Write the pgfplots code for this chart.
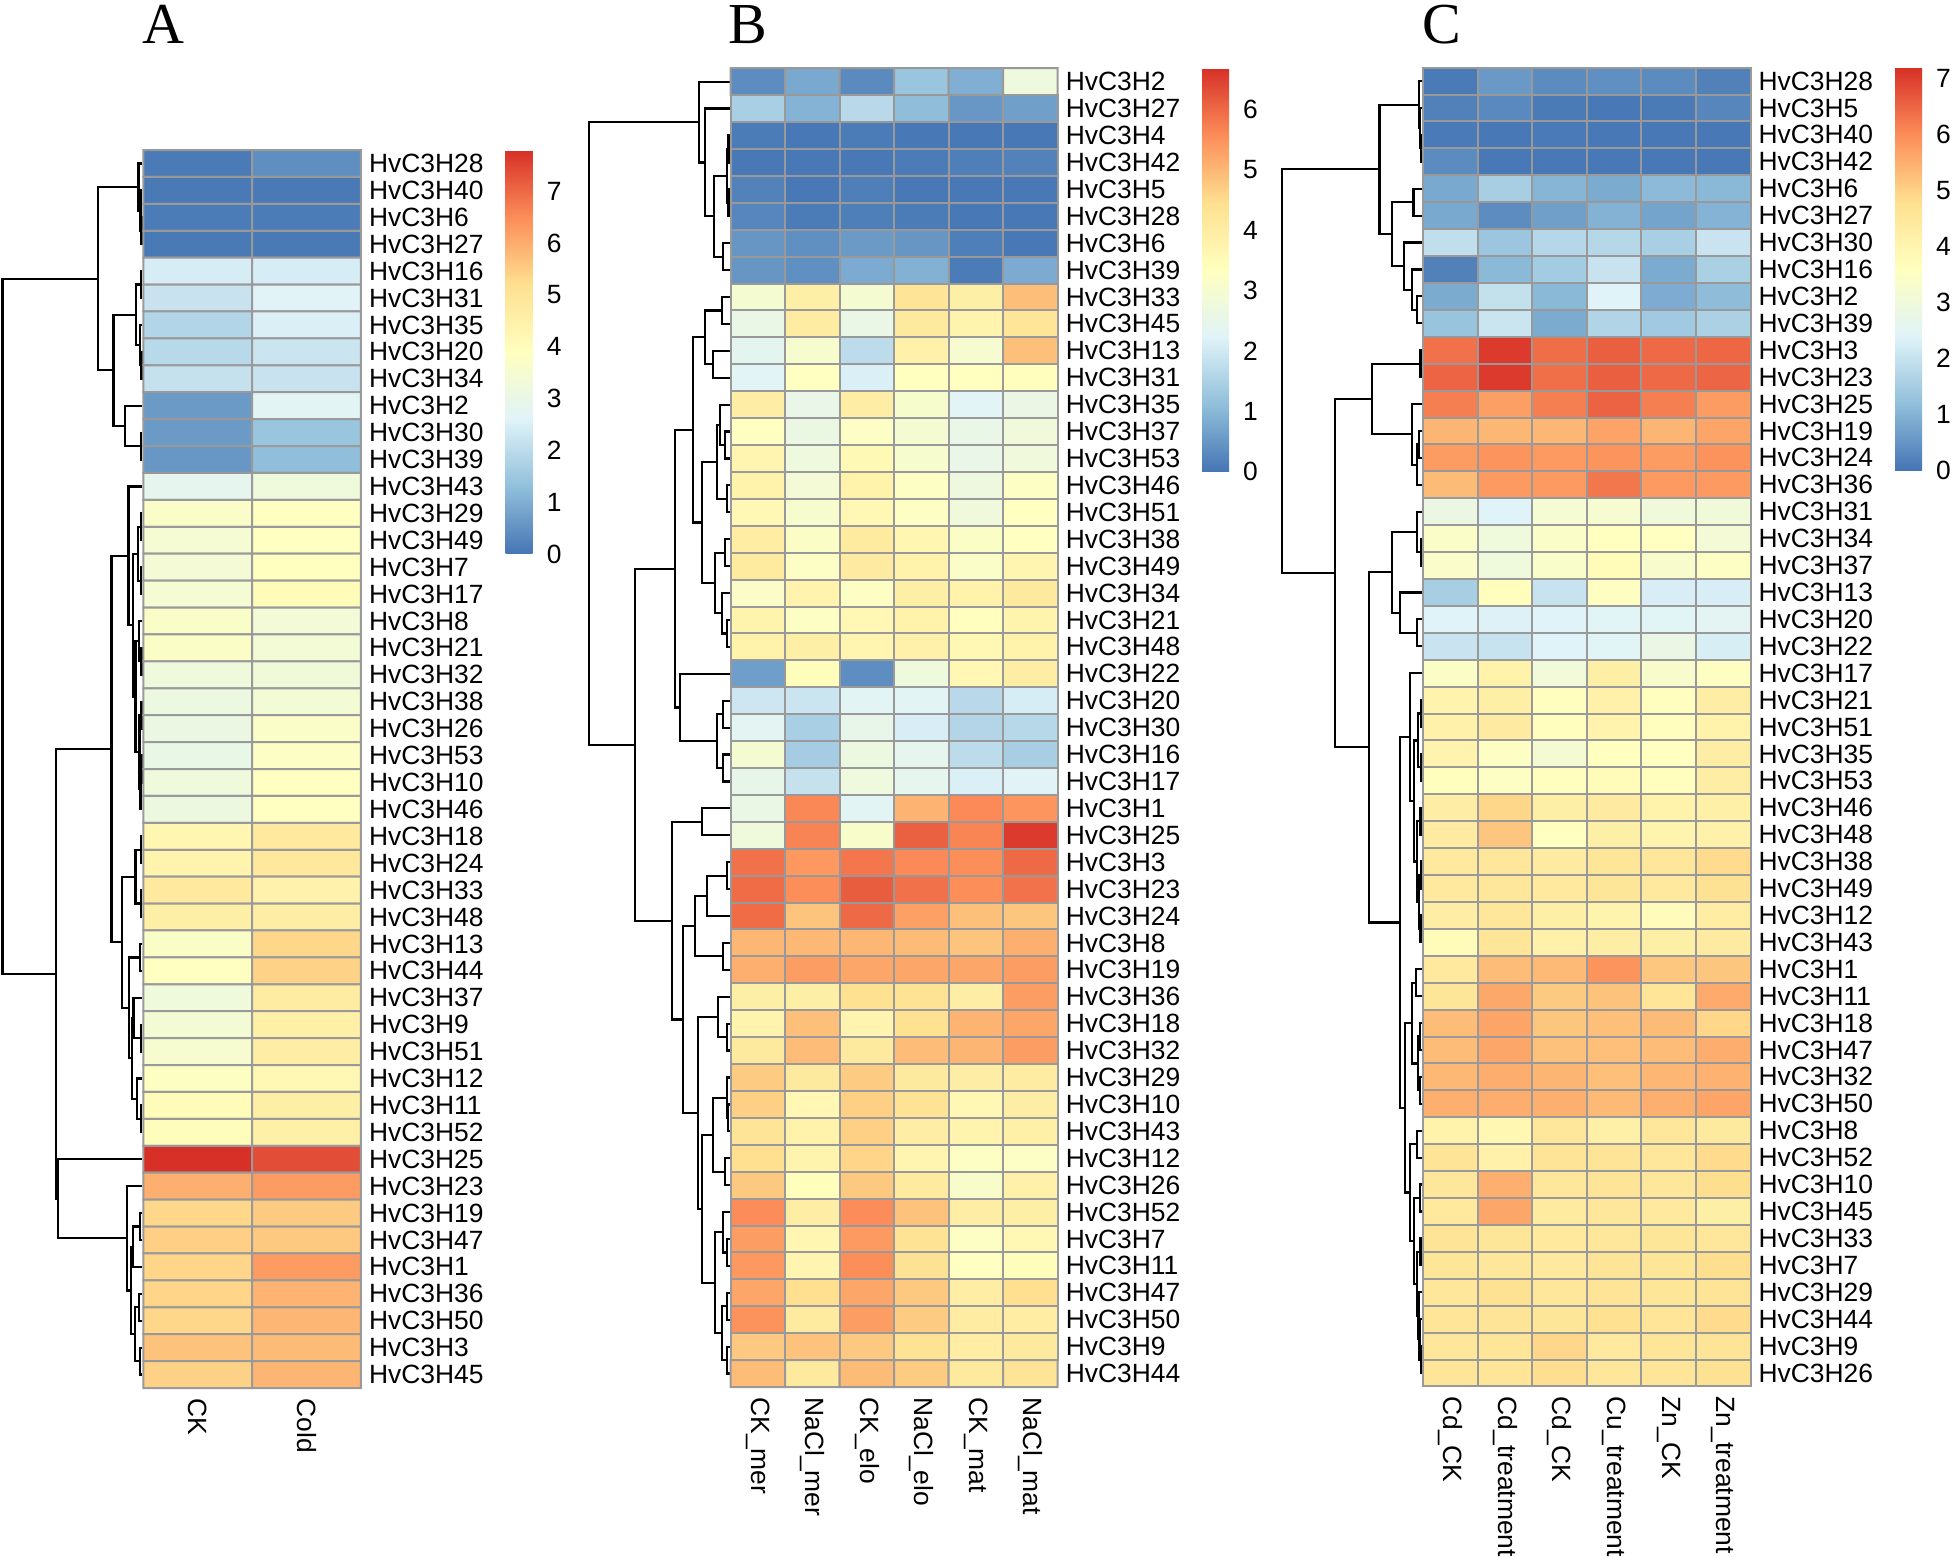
\documentclass[border=0pt]{standalone}
\usepackage{pgfplots}
\pgfplotsset{compat=1.18}
\usepackage{fontspec}
\setmainfont{Liberation Sans}
\newfontfamily\titlefont{Liberation Serif}
\newcommand{\hmlab}{\fontsize{6.6}{7.5}\selectfont}
\pgfplotsset{colormap={rdylbu}{rgb255(0cm)=(69,117,180); rgb255(1cm)=(145,191,219); rgb255(2cm)=(224,243,248); rgb255(3cm)=(255,255,191); rgb255(4cm)=(254,224,144); rgb255(5cm)=(252,141,89); rgb255(6cm)=(215,48,39)}}
\begin{document}
\begin{tikzpicture}
\useasboundingbox (0,0) rectangle (488pt,389pt);
\node[anchor=base west, inner sep=0pt, font=\titlefont\fontsize{14.5}{16}\selectfont] at (35.5pt,378pt) {A};
\node[anchor=base west, inner sep=0pt, font=\titlefont\fontsize{14.5}{16}\selectfont] at (182pt,378pt) {B};
\node[anchor=base west, inner sep=0pt, font=\titlefont\fontsize{14.5}{16}\selectfont] at (355.5pt,378pt) {C};

% ---------------- Panel A dendrogram ----------------
\begin{axis}[at={(0pt,42pt)}, scale only axis, width=35.83pt, height=309.5pt, xmin=0, xmax=143.3, ymin=-0.5, ymax=45.5, y dir=reverse, hide axis, clip=false]
\addplot[black, line width=0.55pt] coordinates {(142,2) (141.5,2) (141.5,3) (142,3)};
\addplot[black, line width=0.55pt] coordinates {(142,1) (140.5,1) (140.5,2.5) (141.5,2.5)};
\addplot[black, line width=0.55pt] coordinates {(142,0) (138.5,0) (138.5,1.75) (140.5,1.75)};
\addplot[black, line width=0.55pt] coordinates {(142,4) (141,4) (141,5) (142,5)};
\addplot[black, line width=0.55pt] coordinates {(142,7) (141.5,7) (141.5,8) (142,8)};
\addplot[black, line width=0.55pt] coordinates {(142,6) (140,6) (140,7.5) (141.5,7.5)};
\addplot[black, line width=0.55pt] coordinates {(141,4.5) (136,4.5) (136,6.75) (140,6.75)};
\addplot[black, line width=0.55pt] coordinates {(142,10) (140.6,10) (140.6,11) (142,11)};
\addplot[black, line width=0.55pt] coordinates {(142,9) (125,9) (125,10.5) (140.6,10.5)};
\addplot[black, line width=0.55pt] coordinates {(136,5.625) (113.4,5.625) (113.4,9.75) (125,9.75)};
\addplot[black, line width=0.55pt] coordinates {(138.5,0.875) (97.9,0.875) (97.9,7.6875) (113.4,7.6875)};
\addplot[black, line width=0.55pt] coordinates {(142,13) (141,13) (141,14) (142,14)};
\addplot[black, line width=0.55pt] coordinates {(142,15) (141,15) (141,16) (142,16)};
\addplot[black, line width=0.55pt] coordinates {(141,13.5) (138,13.5) (138,15.5) (141,15.5)};
\addplot[black, line width=0.55pt] coordinates {(142,18) (141.5,18) (141.5,19) (142,19)};
\addplot[black, line width=0.55pt] coordinates {(142,17) (139,17) (139,18.5) (141.5,18.5)};
\addplot[black, line width=0.55pt] coordinates {(142,20) (141.5,20) (141.5,21) (142,21)};
\addplot[black, line width=0.55pt] coordinates {(142,22) (141.8,22) (141.8,23) (142,23)};
\addplot[black, line width=0.55pt] coordinates {(141.8,22.5) (140.5,22.5) (140.5,24) (142,24)};
\addplot[black, line width=0.55pt] coordinates {(141.5,20.5) (139.5,20.5) (139.5,23.25) (140.5,23.25)};
\addplot[black, line width=0.55pt] coordinates {(139,17.75) (135.5,17.75) (135.5,21.875) (139.5,21.875)};
\addplot[black, line width=0.55pt] coordinates {(138,14.5) (133,14.5) (133,19.8125) (135.5,19.8125)};
\addplot[black, line width=0.55pt] coordinates {(142,12) (128.5,12) (128.5,17.156) (133,17.156)};
\addplot[black, line width=0.55pt] coordinates {(142,25) (141,25) (141,26) (142,26)};
\addplot[black, line width=0.55pt] coordinates {(142,27) (141,27) (141,28) (142,28)};
\addplot[black, line width=0.55pt] coordinates {(141,25.5) (135.5,25.5) (135.5,27.5) (141,27.5)};
\addplot[black, line width=0.55pt] coordinates {(142,29) (140,29) (140,30) (142,30)};
\addplot[black, line width=0.55pt] coordinates {(142,32) (141,32) (141,33) (142,33)};
\addplot[black, line width=0.55pt] coordinates {(142,31) (133.5,31) (133.5,32.5) (141,32.5)};
\addplot[black, line width=0.55pt] coordinates {(142,35) (141,35) (141,36) (142,36)};
\addplot[black, line width=0.55pt] coordinates {(142,34) (136.7,34) (136.7,35.5) (141,35.5)};
\addplot[black, line width=0.55pt] coordinates {(133.5,31.75) (131.7,31.75) (131.7,34.75) (136.7,34.75)};
\addplot[black, line width=0.55pt] coordinates {(140,29.5) (129.3,29.5) (129.3,33.25) (131.7,33.25)};
\addplot[black, line width=0.55pt] coordinates {(135.5,26.5) (121.7,26.5) (121.7,31.375) (129.3,31.375)};
\addplot[black, line width=0.55pt] coordinates {(128.5,14.578) (111.5,14.578) (111.5,28.9375) (121.7,28.9375)};
\addplot[black, line width=0.55pt] coordinates {(142,39) (140,39) (140,40) (142,40)};
\addplot[black, line width=0.55pt] coordinates {(140,39.5) (133,39.5) (133,41) (142,41)};
\addplot[black, line width=0.55pt] coordinates {(142,42) (139,42) (139,43) (142,43)};
\addplot[black, line width=0.55pt] coordinates {(142,44) (140,44) (140,45) (142,45)};
\addplot[black, line width=0.55pt] coordinates {(139,42.5) (135,42.5) (135,44.5) (140,44.5)};
\addplot[black, line width=0.55pt] coordinates {(133,40.25) (131,40.25) (131,43.5) (135,43.5)};
\addplot[black, line width=0.55pt] coordinates {(142,38) (126.7,38) (126.7,41.875) (131,41.875)};
\addplot[black, line width=0.55pt] coordinates {(142,37) (58,37) (58,39.9375) (126.7,39.9375)};
\addplot[black, line width=0.55pt] coordinates {(111.5,21.758) (56,21.758) (56,38.469) (58,38.469)};
\addplot[black, line width=0.55pt] coordinates {(97.9,4.281) (2.4,4.281) (2.4,30.113) (56,30.113)};
\end{axis}

% ---------------- Panel A heatmap ----------------
\begin{axis}[at={(35.83pt,42pt)}, scale only axis, width=54.42pt, height=309.5pt,
  xmin=-0.5, xmax=1.5, ymin=-0.5, ymax=45.5, y dir=reverse, clip=false,
  axis line style={draw=none}, major tick length=0pt,
  xtick=\empty, ytick={0,...,45}, yticklabel pos=right,
  yticklabel style={font=\hmlab, anchor=west, xshift=-1.5pt},
  yticklabels={HvC3H28,HvC3H40,HvC3H6,HvC3H27,HvC3H16,HvC3H31,HvC3H35,HvC3H20,HvC3H34,HvC3H2,HvC3H30,HvC3H39,HvC3H43,HvC3H29,HvC3H49,HvC3H7,HvC3H17,HvC3H8,HvC3H21,HvC3H32,HvC3H38,HvC3H26,HvC3H53,HvC3H10,HvC3H46,HvC3H18,HvC3H24,HvC3H33,HvC3H48,HvC3H13,HvC3H44,HvC3H37,HvC3H9,HvC3H51,HvC3H12,HvC3H11,HvC3H52,HvC3H25,HvC3H23,HvC3H19,HvC3H47,HvC3H1,HvC3H36,HvC3H50,HvC3H3,HvC3H45},
  colormap name=rdylbu, point meta min=0, point meta max=7.8,
  colorbar, colorbar style={at={(parent axis.north east)}, anchor=north west, xshift=27.64pt,
    width=6.75pt, height=101pt, scale only axis, y dir=normal,
    ytick={0,1,2,3,4,5,6,7}, yticklabel pos=right, axis line style={draw=none},
    major tick length=0pt, yticklabel style={font=\hmlab, anchor=west},
    /pgf/number format/assume math mode=true}]
\addplot[matrix plot*, mesh/cols=2, point meta=explicit, draw=black!40, line width=0.5pt] table[meta=v, row sep=\\] {
x y v\\
0 0 0.1\\ 1 0 0.45\\
0 1 0.08\\ 1 1 0.08\\
0 2 0.12\\ 1 2 0.12\\
0 3 0.08\\ 1 3 0.08\\
0 4 2.45\\ 1 4 2.45\\
0 5 2.2\\ 1 5 2.65\\
0 6 1.85\\ 1 6 2.5\\
0 7 1.95\\ 1 7 2.25\\
0 8 2.15\\ 1 8 2.2\\
0 9 0.65\\ 1 9 2.7\\
0 10 0.65\\ 1 10 1.45\\
0 11 0.6\\ 1 11 1.3\\
0 12 2.85\\ 1 12 3.25\\
0 13 3.69\\ 1 13 3.85\\
0 14 3.47\\ 1 14 3.88\\
0 15 3.4\\ 1 15 3.9\\
0 16 3.47\\ 1 16 4.04\\
0 17 3.69\\ 1 17 3.35\\
0 18 3.73\\ 1 18 3.37\\
0 19 3.24\\ 1 19 3.33\\
0 20 3.15\\ 1 20 3.42\\
0 21 3.09\\ 1 21 3.71\\
0 22 3.0\\ 1 22 3.76\\
0 23 3.24\\ 1 23 3.87\\
0 24 3.15\\ 1 24 3.85\\
0 25 4.29\\ 1 25 4.81\\
0 26 4.37\\ 1 26 4.87\\
0 27 4.81\\ 1 27 4.43\\
0 28 4.59\\ 1 28 4.62\\
0 29 3.74\\ 1 29 5.35\\
0 30 3.88\\ 1 30 5.4\\
0 31 3.24\\ 1 31 4.7\\
0 32 3.42\\ 1 32 4.54\\
0 33 3.54\\ 1 33 4.62\\
0 34 3.83\\ 1 34 4.18\\
0 35 4.09\\ 1 35 4.56\\
0 36 4.0\\ 1 36 4.54\\
0 37 7.8\\ 1 37 7.4\\
0 38 5.97\\ 1 38 6.27\\
0 39 5.34\\ 1 39 5.54\\
0 40 5.47\\ 1 40 5.56\\
0 41 5.37\\ 1 41 6.28\\
0 42 5.37\\ 1 42 5.9\\
0 43 5.35\\ 1 43 5.86\\
0 44 5.67\\ 1 44 5.78\\
0 45 5.43\\ 1 45 5.87\\
};
\node[rotate=-90, anchor=west, font=\hmlab, inner sep=2.4pt] at (axis cs:0,45.5) {CK};
\node[rotate=-90, anchor=west, font=\hmlab, inner sep=2.4pt] at (axis cs:1,45.5) {Cold};
\end{axis}

% ---------------- Panel B dendrogram ----------------
\begin{axis}[at={(145pt,42.25pt)}, scale only axis, width=37.675pt, height=329.7pt, xmin=580, xmax=730.7, ymin=-0.5, ymax=48.5, y dir=reverse, hide axis, clip=false]
\addplot[black, line width=0.55pt] coordinates {(729.5,2) (728.5,2) (728.5,3) (729.5,3)};
\addplot[black, line width=0.55pt] coordinates {(729.5,4) (728.5,4) (728.5,5) (729.5,5)};
\addplot[black, line width=0.55pt] coordinates {(728.5,2.5) (727,2.5) (727,4.5) (728.5,4.5)};
\addplot[black, line width=0.55pt] coordinates {(729.5,6) (723.3,6) (723.3,7) (729.5,7)};
\addplot[black, line width=0.55pt] coordinates {(727,3.5) (714.3,3.5) (714.3,6.5) (723.3,6.5)};
\addplot[black, line width=0.55pt] coordinates {(729.5,1) (705,1) (705,5) (714.3,5)};
\addplot[black, line width=0.55pt] coordinates {(729.5,0) (699.3,0) (699.3,3) (705,3)};
\addplot[black, line width=0.55pt] coordinates {(729.5,8) (721.7,8) (721.7,9) (729.5,9)};
\addplot[black, line width=0.55pt] coordinates {(729.5,10) (713.3,10) (713.3,11) (729.5,11)};
\addplot[black, line width=0.55pt] coordinates {(721.7,8.5) (705,8.5) (705,10.5) (713.3,10.5)};
\addplot[black, line width=0.55pt] coordinates {(729.5,13) (725,13) (725,14) (729.5,14)};
\addplot[black, line width=0.55pt] coordinates {(729.5,12) (720,12) (720,13.5) (725,13.5)};
\addplot[black, line width=0.55pt] coordinates {(729.5,15) (726.7,15) (726.7,16) (729.5,16)};
\addplot[black, line width=0.55pt] coordinates {(720,12.75) (716.7,12.75) (716.7,15.5) (726.7,15.5)};
\addplot[black, line width=0.55pt] coordinates {(729.5,17) (725,17) (725,18) (729.5,18)};
\addplot[black, line width=0.55pt] coordinates {(729.5,20) (726.7,20) (726.7,21) (729.5,21)};
\addplot[black, line width=0.55pt] coordinates {(729.5,19) (721.7,19) (721.7,20.5) (726.7,20.5)};
\addplot[black, line width=0.55pt] coordinates {(725,17.5) (715,17.5) (715,19.75) (721.7,19.75)};
\addplot[black, line width=0.55pt] coordinates {(716.7,14.125) (701.7,14.125) (701.7,18.625) (715,18.625)};
\addplot[black, line width=0.55pt] coordinates {(705,9.5) (692.7,9.5) (692.7,16.375) (701.7,16.375)};
\addplot[black, line width=0.55pt] coordinates {(729.5,23) (723.3,23) (723.3,24) (729.5,24)};
\addplot[black, line width=0.55pt] coordinates {(729.5,25) (723.3,25) (723.3,26) (729.5,26)};
\addplot[black, line width=0.55pt] coordinates {(723.3,23.5) (716.7,23.5) (716.7,25.5) (723.3,25.5)};
\addplot[black, line width=0.55pt] coordinates {(729.5,22) (680,22) (680,24.5) (716.7,24.5)};
\addplot[black, line width=0.55pt] coordinates {(692.7,12.9375) (675,12.9375) (675,23.25) (680,23.25)};
\addplot[black, line width=0.55pt] coordinates {(729.5,27) (701.7,27) (701.7,28) (729.5,28)};
\addplot[black, line width=0.55pt] coordinates {(729.5,29) (726.7,29) (726.7,30) (729.5,30)};
\addplot[black, line width=0.55pt] coordinates {(726.7,29.5) (706.7,29.5) (706.7,31) (729.5,31)};
\addplot[black, line width=0.55pt] coordinates {(729.5,32) (723.3,32) (723.3,33) (729.5,33)};
\addplot[black, line width=0.55pt] coordinates {(706.7,30.25) (695,30.25) (695,32.5) (723.3,32.5)};
\addplot[black, line width=0.55pt] coordinates {(729.5,35) (726.7,35) (726.7,36) (729.5,36)};
\addplot[black, line width=0.55pt] coordinates {(729.5,34) (718.3,34) (718.3,35.5) (726.7,35.5)};
\addplot[black, line width=0.55pt] coordinates {(729.5,38) (728,38) (728,39) (729.5,39)};
\addplot[black, line width=0.55pt] coordinates {(729.5,37) (726.7,37) (726.7,38.5) (728,38.5)};
\addplot[black, line width=0.55pt] coordinates {(729.5,40) (725,40) (725,41) (729.5,41)};
\addplot[black, line width=0.55pt] coordinates {(726.7,37.75) (713.3,37.75) (713.3,40.5) (725,40.5)};
\addplot[black, line width=0.55pt] coordinates {(729.5,43) (726.7,43) (726.7,44) (729.5,44)};
\addplot[black, line width=0.55pt] coordinates {(729.5,42) (723,42) (723,43.5) (726.7,43.5)};
\addplot[black, line width=0.55pt] coordinates {(729.5,45) (726.7,45) (726.7,46) (729.5,46)};
\addplot[black, line width=0.55pt] coordinates {(729.5,47) (726.7,47) (726.7,48) (729.5,48)};
\addplot[black, line width=0.55pt] coordinates {(726.7,45.5) (721.7,45.5) (721.7,47.5) (726.7,47.5)};
\addplot[black, line width=0.55pt] coordinates {(723,42.75) (715,42.75) (715,46.5) (721.7,46.5)};
\addplot[black, line width=0.55pt] coordinates {(713.3,39.125) (701.7,39.125) (701.7,44.625) (715,44.625)};
\addplot[black, line width=0.55pt] coordinates {(718.3,34.75) (698.3,34.75) (698.3,41.875) (701.7,41.875)};
\addplot[black, line width=0.55pt] coordinates {(695,31.375) (683.3,31.375) (683.3,38.3125) (698.3,38.3125)};
\addplot[black, line width=0.55pt] coordinates {(701.7,27.5) (671.7,27.5) (671.7,34.844) (683.3,34.844)};
\addplot[black, line width=0.55pt] coordinates {(675,18.094) (635,18.094) (635,31.172) (671.7,31.172)};
\addplot[black, line width=0.55pt] coordinates {(699.3,1.5) (589.3,1.5) (589.3,24.633) (635,24.633)};
\end{axis}

% ---------------- Panel B heatmap ----------------
\begin{axis}[at={(182.68pt,42.25pt)}, scale only axis, width=81.75pt, height=329.7pt,
  xmin=-0.5, xmax=5.5, ymin=-0.5, ymax=48.5, y dir=reverse, clip=false,
  axis line style={draw=none}, major tick length=0pt,
  xtick=\empty, ytick={0,...,48}, yticklabel pos=right,
  yticklabel style={font=\hmlab, anchor=west, xshift=-1.5pt},
  yticklabels={HvC3H2,HvC3H27,HvC3H4,HvC3H42,HvC3H5,HvC3H28,HvC3H6,HvC3H39,HvC3H33,HvC3H45,HvC3H13,HvC3H31,HvC3H35,HvC3H37,HvC3H53,HvC3H46,HvC3H51,HvC3H38,HvC3H49,HvC3H34,HvC3H21,HvC3H48,HvC3H22,HvC3H20,HvC3H30,HvC3H16,HvC3H17,HvC3H1,HvC3H25,HvC3H3,HvC3H23,HvC3H24,HvC3H8,HvC3H19,HvC3H36,HvC3H18,HvC3H32,HvC3H29,HvC3H10,HvC3H43,HvC3H12,HvC3H26,HvC3H52,HvC3H7,HvC3H11,HvC3H47,HvC3H50,HvC3H9,HvC3H44},
  colormap name=rdylbu, point meta min=0, point meta max=6.68,
  colorbar, colorbar style={at={(parent axis.north east)}, anchor=north west, xshift=27.56pt,
    width=6.75pt, height=100.85pt, scale only axis, y dir=normal,
    ytick={0,1,2,3,4,5,6}, yticklabel pos=right, axis line style={draw=none},
    major tick length=0pt, yticklabel style={font=\hmlab, anchor=west},
    /pgf/number format/assume math mode=true}]
\addplot[matrix plot*, mesh/cols=6, point meta=explicit, draw=black!40, line width=0.5pt] table[meta=v, row sep=\\] {
x y v\\
0 0 0.35\\ 1 0 0.78\\ 2 0 0.32\\ 3 0 1.24\\ 4 0 0.88\\ 5 0 2.75\\
0 1 1.45\\ 1 1 0.94\\ 2 1 1.68\\ 3 1 1.08\\ 4 1 0.51\\ 5 1 0.63\\
0 2 0.1\\ 1 2 0.05\\ 2 2 0.1\\ 3 2 0.05\\ 4 2 0.05\\ 5 2 0.05\\
0 3 0.05\\ 1 3 0.05\\ 2 3 0.05\\ 3 3 0.1\\ 4 3 0.15\\ 5 3 0.2\\
0 4 0.2\\ 1 4 0.05\\ 2 4 0.15\\ 3 4 0.05\\ 4 4 0.05\\ 5 4 0.05\\
0 5 0.25\\ 1 5 0.1\\ 2 5 0.15\\ 3 5 0.1\\ 4 5 0.05\\ 5 5 0.05\\
0 6 0.5\\ 1 6 0.4\\ 2 6 0.55\\ 3 6 0.5\\ 4 6 0.15\\ 5 6 0.05\\
0 7 0.5\\ 1 7 0.4\\ 2 7 0.8\\ 3 7 0.9\\ 4 7 0.1\\ 5 7 0.8\\
0 8 2.99\\ 1 8 3.93\\ 2 8 2.99\\ 3 8 4.3\\ 4 8 3.91\\ 5 8 4.91\\
0 9 2.58\\ 1 9 4.03\\ 2 9 2.58\\ 3 9 4.1\\ 4 9 3.74\\ 5 9 4.26\\
0 10 2.38\\ 1 10 3.05\\ 2 10 1.73\\ 3 10 3.84\\ 4 10 3.03\\ 5 10 4.88\\
0 11 2.29\\ 1 11 3.32\\ 2 11 2.16\\ 3 11 3.34\\ 4 11 3.34\\ 5 11 3.39\\
0 12 3.96\\ 1 12 2.54\\ 2 12 3.96\\ 3 12 3.07\\ 4 12 2.29\\ 5 12 2.62\\
0 13 3.3\\ 1 13 2.64\\ 2 13 3.23\\ 3 13 2.95\\ 4 13 2.54\\ 5 13 2.81\\
0 14 3.7\\ 1 14 2.75\\ 2 14 3.55\\ 3 14 3.05\\ 4 14 2.54\\ 5 14 2.79\\
0 15 3.81\\ 1 15 2.91\\ 2 15 3.81\\ 3 15 3.25\\ 4 15 2.72\\ 5 15 3.27\\
0 16 3.6\\ 1 16 3.05\\ 2 16 3.62\\ 3 16 3.25\\ 4 16 2.79\\ 5 16 3.32\\
0 17 4.0\\ 1 17 3.19\\ 2 17 4.07\\ 3 17 3.65\\ 4 17 3.19\\ 5 17 3.32\\
0 18 4.07\\ 1 18 3.23\\ 2 18 4.05\\ 3 18 3.81\\ 4 18 3.18\\ 5 18 3.7\\
0 19 3.16\\ 1 19 3.77\\ 2 19 3.25\\ 3 19 3.93\\ 4 19 3.81\\ 5 19 4.1\\
0 20 3.74\\ 1 20 3.27\\ 2 20 3.62\\ 3 20 3.81\\ 4 20 3.36\\ 5 20 3.74\\
0 21 3.81\\ 1 21 3.93\\ 2 21 3.7\\ 3 21 3.84\\ 4 21 3.58\\ 5 21 3.81\\
0 22 0.62\\ 1 22 3.43\\ 2 22 0.37\\ 3 22 2.77\\ 4 22 3.62\\ 5 22 3.98\\
0 23 1.96\\ 1 23 1.93\\ 2 23 2.3\\ 3 23 2.3\\ 4 23 1.68\\ 5 23 2.1\\
0 24 2.35\\ 1 24 1.45\\ 2 24 2.5\\ 3 24 2.11\\ 4 24 1.59\\ 5 24 1.65\\
0 25 3.0\\ 1 25 1.39\\ 2 25 2.7\\ 3 25 2.45\\ 4 25 1.72\\ 5 25 1.44\\
0 26 2.5\\ 1 26 1.85\\ 2 26 2.75\\ 3 26 2.45\\ 4 26 2.15\\ 5 26 2.25\\
0 27 2.6\\ 1 27 5.63\\ 2 27 2.3\\ 3 27 5.06\\ 4 27 5.6\\ 5 27 5.46\\
0 28 2.77\\ 1 28 5.69\\ 2 28 3.1\\ 3 28 6.1\\ 4 28 5.66\\ 5 28 6.56\\
0 29 5.9\\ 1 29 5.42\\ 2 29 5.85\\ 3 29 5.6\\ 4 29 5.56\\ 5 29 5.99\\
0 30 5.96\\ 1 30 5.56\\ 2 30 6.14\\ 3 30 5.9\\ 4 30 5.56\\ 5 30 5.89\\
0 31 5.96\\ 1 31 4.83\\ 2 31 5.99\\ 3 31 5.31\\ 4 31 4.88\\ 5 31 4.8\\
0 32 5.0\\ 1 32 4.99\\ 2 32 5.0\\ 3 32 4.95\\ 4 32 4.83\\ 5 32 5.11\\
0 33 5.11\\ 1 33 5.35\\ 2 33 5.24\\ 3 33 5.24\\ 4 33 5.24\\ 5 33 5.36\\
0 34 3.93\\ 1 34 3.93\\ 2 34 4.4\\ 3 34 4.35\\ 4 34 3.98\\ 5 34 5.36\\
0 35 3.74\\ 1 35 4.9\\ 2 35 3.72\\ 3 35 4.4\\ 4 35 5.04\\ 5 35 5.24\\
0 36 4.1\\ 1 36 4.94\\ 2 36 4.1\\ 3 36 4.94\\ 4 36 5.03\\ 5 36 5.35\\
0 37 4.74\\ 1 37 4.1\\ 2 37 4.74\\ 3 37 4.1\\ 4 37 3.98\\ 5 37 4.03\\
0 38 4.67\\ 1 38 3.62\\ 2 38 4.67\\ 3 38 4.35\\ 4 38 3.6\\ 5 38 3.98\\
0 39 4.3\\ 1 39 3.81\\ 2 39 4.67\\ 3 39 3.96\\ 4 39 3.74\\ 5 39 3.88\\
0 40 4.45\\ 1 40 3.74\\ 2 40 4.6\\ 3 40 3.7\\ 4 40 3.25\\ 5 40 3.23\\
0 41 4.77\\ 1 41 3.39\\ 2 41 4.77\\ 3 41 4.07\\ 4 41 3.1\\ 5 41 3.86\\
0 42 5.58\\ 1 42 3.96\\ 2 42 5.58\\ 3 42 4.84\\ 4 42 3.96\\ 5 42 3.93\\
0 43 5.34\\ 1 43 3.65\\ 2 43 5.39\\ 3 43 4.35\\ 4 43 3.27\\ 5 43 3.62\\
0 44 5.42\\ 1 44 3.7\\ 2 44 5.56\\ 3 44 4.37\\ 4 44 3.3\\ 5 44 3.43\\
0 45 5.23\\ 1 45 4.45\\ 2 45 5.24\\ 3 45 4.76\\ 4 45 3.98\\ 5 45 4.45\\
0 46 5.49\\ 1 46 4.07\\ 2 46 5.35\\ 3 46 4.74\\ 4 46 4.03\\ 5 46 4.0\\
0 47 4.77\\ 1 47 4.84\\ 2 47 4.76\\ 3 47 4.35\\ 4 47 4.0\\ 5 47 4.1\\
0 48 4.94\\ 1 48 4.1\\ 2 48 4.95\\ 3 48 4.74\\ 4 48 4.1\\ 5 48 4.3\\
};
\node[rotate=-90, anchor=west, font=\hmlab, inner sep=2.4pt] at (axis cs:0,48.5) {CK\_mer};
\node[rotate=-90, anchor=west, font=\hmlab, inner sep=2.4pt] at (axis cs:1,48.5) {NaCl\_mer};
\node[rotate=-90, anchor=west, font=\hmlab, inner sep=2.4pt] at (axis cs:2,48.5) {CK\_elo};
\node[rotate=-90, anchor=west, font=\hmlab, inner sep=2.4pt] at (axis cs:3,48.5) {NaCl\_elo};
\node[rotate=-90, anchor=west, font=\hmlab, inner sep=2.4pt] at (axis cs:4,48.5) {CK\_mat};
\node[rotate=-90, anchor=west, font=\hmlab, inner sep=2.4pt] at (axis cs:5,48.5) {NaCl\_mat};
\end{axis}

% ---------------- Panel C dendrogram ----------------
\begin{axis}[at={(317.5pt,42.4pt)}, scale only axis, width=38.275pt, height=329.7pt, xmin=1270, xmax=1423.1, ymin=-0.5, ymax=48.5, y dir=reverse, hide axis, clip=false]
\addplot[black, line width=0.55pt] coordinates {(1422,2) (1421,2) (1421,3) (1422,3)};
\addplot[black, line width=0.55pt] coordinates {(1422,1) (1420,1) (1420,2.5) (1421,2.5)};
\addplot[black, line width=0.55pt] coordinates {(1422,0) (1418.6,0) (1418.6,1.75) (1420,1.75)};
\addplot[black, line width=0.55pt] coordinates {(1422,4) (1413.5,4) (1413.5,5) (1422,5)};
\addplot[black, line width=0.55pt] coordinates {(1422,8) (1416.9,8) (1416.9,9) (1422,9)};
\addplot[black, line width=0.55pt] coordinates {(1422,7) (1411.7,7) (1411.7,8.5) (1416.9,8.5)};
\addplot[black, line width=0.55pt] coordinates {(1422,6) (1404,6) (1404,7.75) (1411.7,7.75)};
\addplot[black, line width=0.55pt] coordinates {(1413.5,4.5) (1392,4.5) (1392,6.875) (1404,6.875)};
\addplot[black, line width=0.55pt] coordinates {(1418.6,0.875) (1379.5,0.875) (1379.5,5.6875) (1392,5.6875)};
\addplot[black, line width=0.55pt] coordinates {(1422,10) (1420.5,10) (1420.5,11) (1422,11)};
\addplot[black, line width=0.55pt] coordinates {(1422,13) (1418.6,13) (1418.6,14) (1422,14)};
\addplot[black, line width=0.55pt] coordinates {(1418.6,13.5) (1417,13.5) (1417,15) (1422,15)};
\addplot[black, line width=0.55pt] coordinates {(1422,12) (1411.7,12) (1411.7,14.25) (1417,14.25)};
\addplot[black, line width=0.55pt] coordinates {(1420.5,10.5) (1372,10.5) (1372,13.125) (1411.7,13.125)};
\addplot[black, line width=0.55pt] coordinates {(1422,17) (1421.5,17) (1421.5,18) (1422,18)};
\addplot[black, line width=0.55pt] coordinates {(1422,16) (1417,16) (1417,17.5) (1421.5,17.5)};
\addplot[black, line width=0.55pt] coordinates {(1422,20) (1417,20) (1417,21) (1422,21)};
\addplot[black, line width=0.55pt] coordinates {(1422,19) (1400,19) (1400,20.5) (1417,20.5)};
\addplot[black, line width=0.55pt] coordinates {(1417,16.75) (1392,16.75) (1392,19.75) (1400,19.75)};
\addplot[black, line width=0.55pt] coordinates {(1422,23) (1421,23) (1421,24) (1422,24)};
\addplot[black, line width=0.55pt] coordinates {(1422,25) (1421,25) (1421,26) (1422,26)};
\addplot[black, line width=0.55pt] coordinates {(1421,23.5) (1418,23.5) (1418,25.5) (1421,25.5)};
\addplot[black, line width=0.55pt] coordinates {(1422,27) (1420.5,27) (1420.5,28) (1422,28)};
\addplot[black, line width=0.55pt] coordinates {(1422,29) (1421.5,29) (1421.5,30) (1422,30)};
\addplot[black, line width=0.55pt] coordinates {(1422,31) (1420.5,31) (1420.5,32) (1422,32)};
\addplot[black, line width=0.55pt] coordinates {(1421.5,29.5) (1419,29.5) (1419,31.5) (1420.5,31.5)};
\addplot[black, line width=0.55pt] coordinates {(1420.5,27.5) (1417,27.5) (1417,30.5) (1419,30.5)};
\addplot[black, line width=0.55pt] coordinates {(1418,24.5) (1414,24.5) (1414,29) (1417,29)};
\addplot[black, line width=0.55pt] coordinates {(1422,22) (1410,22) (1410,26.75) (1414,26.75)};
\addplot[black, line width=0.55pt] coordinates {(1422,33) (1416,33) (1416,34) (1422,34)};
\addplot[black, line width=0.55pt] coordinates {(1422,35) (1420,35) (1420,36) (1422,36)};
\addplot[black, line width=0.55pt] coordinates {(1422,37) (1420,37) (1420,38) (1422,38)};
\addplot[black, line width=0.55pt] coordinates {(1420,35.5) (1418,35.5) (1418,37.5) (1420,37.5)};
\addplot[black, line width=0.55pt] coordinates {(1416,33.5) (1412,33.5) (1412,36.5) (1418,36.5)};
\addplot[black, line width=0.55pt] coordinates {(1422,39) (1416.9,39) (1416.9,40) (1422,40)};
\addplot[black, line width=0.55pt] coordinates {(1422,41) (1420,41) (1420,42) (1422,42)};
\addplot[black, line width=0.55pt] coordinates {(1422,43) (1420.5,43) (1420.5,44) (1422,44)};
\addplot[black, line width=0.55pt] coordinates {(1422,47) (1421,47) (1421,48) (1422,48)};
\addplot[black, line width=0.55pt] coordinates {(1422,46) (1419.5,46) (1419.5,47.5) (1421,47.5)};
\addplot[black, line width=0.55pt] coordinates {(1422,45) (1418.5,45) (1418.5,46.75) (1419.5,46.75)};
\addplot[black, line width=0.55pt] coordinates {(1420.5,43.5) (1417,43.5) (1417,45.875) (1418.5,45.875)};
\addplot[black, line width=0.55pt] coordinates {(1420,41.5) (1414,41.5) (1414,44.6875) (1417,44.6875)};
\addplot[black, line width=0.55pt] coordinates {(1416.9,39.5) (1410,39.5) (1410,43.094) (1414,43.094)};
\addplot[black, line width=0.55pt] coordinates {(1412,35) (1405,35) (1405,41.297) (1410,41.297)};
\addplot[black, line width=0.55pt] coordinates {(1410,24.375) (1400,24.375) (1400,38.148) (1405,38.148)};
\addplot[black, line width=0.55pt] coordinates {(1392,18.25) (1369,18.25) (1369,31.262) (1400,31.262)};
\addplot[black, line width=0.55pt] coordinates {(1372,11.8125) (1334.6,11.8125) (1334.6,24.756) (1369,24.756)};
\addplot[black, line width=0.55pt] coordinates {(1379.5,3.281) (1282,3.281) (1282,18.284) (1334.6,18.284)};
\end{axis}

% ---------------- Panel C heatmap ----------------
\begin{axis}[at={(355.78pt,42.4pt)}, scale only axis, width=81.85pt, height=329.7pt,
  xmin=-0.5, xmax=5.5, ymin=-0.5, ymax=48.5, y dir=reverse, clip=false,
  axis line style={draw=none}, major tick length=0pt,
  xtick=\empty, ytick={0,...,48}, yticklabel pos=right,
  yticklabel style={font=\hmlab, anchor=west, xshift=-1.5pt},
  yticklabels={HvC3H28,HvC3H5,HvC3H40,HvC3H42,HvC3H6,HvC3H27,HvC3H30,HvC3H16,HvC3H2,HvC3H39,HvC3H3,HvC3H23,HvC3H25,HvC3H19,HvC3H24,HvC3H36,HvC3H31,HvC3H34,HvC3H37,HvC3H13,HvC3H20,HvC3H22,HvC3H17,HvC3H21,HvC3H51,HvC3H35,HvC3H53,HvC3H46,HvC3H48,HvC3H38,HvC3H49,HvC3H12,HvC3H43,HvC3H1,HvC3H11,HvC3H18,HvC3H47,HvC3H32,HvC3H50,HvC3H8,HvC3H52,HvC3H10,HvC3H45,HvC3H33,HvC3H7,HvC3H29,HvC3H44,HvC3H9,HvC3H26},
  colormap name=rdylbu, point meta min=0, point meta max=7.19,
  colorbar, colorbar style={at={(parent axis.north east)}, anchor=north west, xshift=27.6pt,
    width=6.75pt, height=100.7pt, scale only axis, y dir=normal,
    ytick={0,1,2,3,4,5,6,7}, yticklabel pos=right, axis line style={draw=none},
    major tick length=0pt, yticklabel style={font=\hmlab, anchor=west},
    /pgf/number format/assume math mode=true}]
\addplot[matrix plot*, mesh/cols=6, point meta=explicit, draw=black!40, line width=0.5pt] table[meta=v, row sep=\\] {
x y v\\
0 0 0.1\\ 1 0 0.58\\ 2 0 0.35\\ 3 0 0.43\\ 4 0 0.36\\ 5 0 0.2\\
0 1 0.2\\ 1 1 0.33\\ 2 1 0.1\\ 3 1 0.05\\ 4 1 0.1\\ 5 1 0.28\\
0 2 0.08\\ 1 2 0.05\\ 2 2 0.08\\ 3 2 0.05\\ 4 2 0.05\\ 5 2 0.05\\
0 3 0.35\\ 1 3 0.05\\ 2 3 0.05\\ 3 3 0.05\\ 4 3 0.05\\ 5 3 0.05\\
0 4 0.84\\ 1 4 1.55\\ 2 4 1.04\\ 3 4 0.87\\ 4 4 1.12\\ 5 4 1.09\\
0 5 0.84\\ 1 5 0.38\\ 2 5 0.68\\ 3 5 0.99\\ 4 5 0.74\\ 5 5 1.01\\
0 6 1.91\\ 1 6 1.37\\ 2 6 1.76\\ 3 6 1.75\\ 4 6 1.56\\ 5 6 2.05\\
0 7 0.2\\ 1 7 1.11\\ 2 7 1.47\\ 3 7 2.04\\ 4 7 0.87\\ 5 7 1.58\\
0 8 0.87\\ 1 8 1.96\\ 2 8 1.09\\ 3 8 2.4\\ 4 8 0.88\\ 5 8 1.15\\
0 9 1.31\\ 1 9 2.08\\ 2 9 0.87\\ 3 9 1.69\\ 4 9 1.44\\ 5 9 1.61\\
0 10 6.35\\ 1 10 7.06\\ 2 10 6.4\\ 3 10 6.59\\ 4 10 6.44\\ 5 10 6.49\\
0 11 6.52\\ 1 11 7.06\\ 2 11 6.38\\ 3 11 6.59\\ 4 11 6.44\\ 5 11 6.51\\
0 12 6.18\\ 1 12 5.74\\ 2 12 6.18\\ 3 12 6.54\\ 4 12 6.18\\ 5 12 5.78\\
0 13 5.41\\ 1 13 5.39\\ 2 13 5.39\\ 3 13 5.67\\ 4 13 5.42\\ 5 13 5.65\\
0 14 5.78\\ 1 14 5.9\\ 2 14 5.8\\ 3 14 5.9\\ 4 14 5.78\\ 5 14 5.91\\
0 15 5.33\\ 1 15 5.81\\ 2 15 5.8\\ 3 15 6.28\\ 4 15 5.8\\ 5 15 5.81\\
0 16 2.84\\ 1 16 2.4\\ 2 16 3.2\\ 3 16 3.26\\ 4 16 3.03\\ 5 16 3.07\\
0 17 3.41\\ 1 17 2.99\\ 2 17 3.41\\ 3 17 3.58\\ 4 17 3.56\\ 5 17 3.14\\
0 18 3.39\\ 1 18 2.99\\ 2 18 3.37\\ 3 18 3.73\\ 4 18 3.33\\ 5 18 3.52\\
0 19 1.55\\ 1 19 3.65\\ 2 19 2.02\\ 3 19 3.54\\ 4 19 2.27\\ 5 19 2.27\\
0 20 2.4\\ 1 20 2.35\\ 2 20 2.4\\ 3 20 2.45\\ 4 20 2.45\\ 5 20 2.5\\
0 21 2.05\\ 1 21 2.02\\ 2 21 2.4\\ 3 21 2.45\\ 4 21 2.82\\ 5 21 2.28\\
0 22 3.43\\ 1 22 4.08\\ 2 22 3.05\\ 3 22 4.23\\ 4 22 3.33\\ 5 22 3.54\\
0 23 4.05\\ 1 23 4.23\\ 2 23 3.63\\ 3 23 4.15\\ 4 23 3.63\\ 5 23 4.26\\
0 24 4.13\\ 1 24 4.36\\ 2 24 3.63\\ 3 24 4.05\\ 4 24 3.63\\ 5 24 4.1\\
0 25 4.05\\ 1 25 3.52\\ 2 25 3.18\\ 3 25 3.58\\ 4 25 3.6\\ 5 25 4.26\\
0 26 3.65\\ 1 26 3.52\\ 2 26 3.63\\ 3 26 3.73\\ 4 26 3.65\\ 5 26 4.26\\
0 27 4.26\\ 1 27 4.92\\ 2 27 4.23\\ 3 27 4.36\\ 4 27 4.08\\ 5 27 4.18\\
0 28 4.36\\ 1 28 5.17\\ 2 28 3.58\\ 3 28 4.21\\ 4 28 4.03\\ 5 28 4.13\\
0 29 4.43\\ 1 29 4.54\\ 2 29 4.36\\ 3 29 4.56\\ 4 29 4.54\\ 5 29 4.87\\
0 30 4.43\\ 1 30 4.51\\ 2 30 4.43\\ 3 30 4.56\\ 4 30 4.43\\ 5 30 4.72\\
0 31 4.28\\ 1 31 4.54\\ 2 31 4.23\\ 3 31 4.03\\ 4 31 3.7\\ 5 31 4.31\\
0 32 3.73\\ 1 32 4.61\\ 2 32 4.15\\ 3 32 4.26\\ 4 32 4.23\\ 5 32 4.36\\
0 33 4.43\\ 1 33 5.3\\ 2 33 5.35\\ 3 33 5.9\\ 4 33 5.15\\ 5 33 5.17\\
0 34 4.56\\ 1 34 5.6\\ 2 34 5.11\\ 3 34 5.22\\ 4 34 4.62\\ 5 34 5.58\\
0 35 5.3\\ 1 35 5.66\\ 2 35 5.17\\ 3 35 5.27\\ 4 35 5.33\\ 5 35 4.92\\
0 36 5.3\\ 1 36 5.63\\ 2 36 5.25\\ 3 36 5.27\\ 4 36 5.32\\ 5 36 5.52\\
0 37 5.38\\ 1 37 5.52\\ 2 37 5.42\\ 3 37 5.27\\ 4 37 5.4\\ 5 37 5.46\\
0 38 5.5\\ 1 38 5.52\\ 2 38 5.5\\ 3 38 5.35\\ 4 38 5.5\\ 5 38 5.66\\
0 39 4.08\\ 1 39 3.92\\ 2 39 4.51\\ 3 39 4.18\\ 4 39 4.51\\ 5 39 4.41\\
0 40 4.64\\ 1 40 4.15\\ 2 40 4.64\\ 3 40 4.64\\ 4 40 4.54\\ 5 40 4.87\\
0 41 4.54\\ 1 41 5.5\\ 2 41 4.54\\ 3 41 4.64\\ 4 41 4.51\\ 5 41 4.82\\
0 42 4.46\\ 1 42 5.63\\ 2 42 4.38\\ 3 42 4.54\\ 4 42 4.43\\ 5 42 4.21\\
0 43 4.64\\ 1 43 4.56\\ 2 43 4.46\\ 3 43 4.54\\ 4 43 4.56\\ 5 43 4.51\\
0 44 4.56\\ 1 44 4.51\\ 2 44 4.43\\ 3 44 4.64\\ 4 44 4.56\\ 5 44 4.82\\
0 45 4.54\\ 1 45 4.72\\ 2 45 4.51\\ 3 45 4.64\\ 4 45 4.56\\ 5 45 4.64\\
0 46 4.61\\ 1 46 4.64\\ 2 46 4.56\\ 3 46 4.77\\ 4 46 4.61\\ 5 46 4.87\\
0 47 4.54\\ 1 47 4.61\\ 2 47 4.92\\ 3 47 4.43\\ 4 47 4.61\\ 5 47 4.64\\
0 48 4.61\\ 1 48 4.61\\ 2 48 4.82\\ 3 48 4.51\\ 4 48 4.61\\ 5 48 4.7\\
};
\node[rotate=-90, anchor=west, font=\hmlab, inner sep=2.4pt] at (axis cs:0,48.5) {Cd\_CK};
\node[rotate=-90, anchor=west, font=\hmlab, inner sep=2.4pt] at (axis cs:1,48.5) {Cd\_treatment};
\node[rotate=-90, anchor=west, font=\hmlab, inner sep=2.4pt] at (axis cs:2,48.5) {Cd\_CK};
\node[rotate=-90, anchor=west, font=\hmlab, inner sep=2.4pt] at (axis cs:3,48.5) {Cu\_treatment};
\node[rotate=-90, anchor=west, font=\hmlab, inner sep=2.4pt] at (axis cs:4,48.5) {Zn\_CK};
\node[rotate=-90, anchor=west, font=\hmlab, inner sep=2.4pt] at (axis cs:5,48.5) {Zn\_treatment};
\end{axis}
\end{tikzpicture}
\end{document}
